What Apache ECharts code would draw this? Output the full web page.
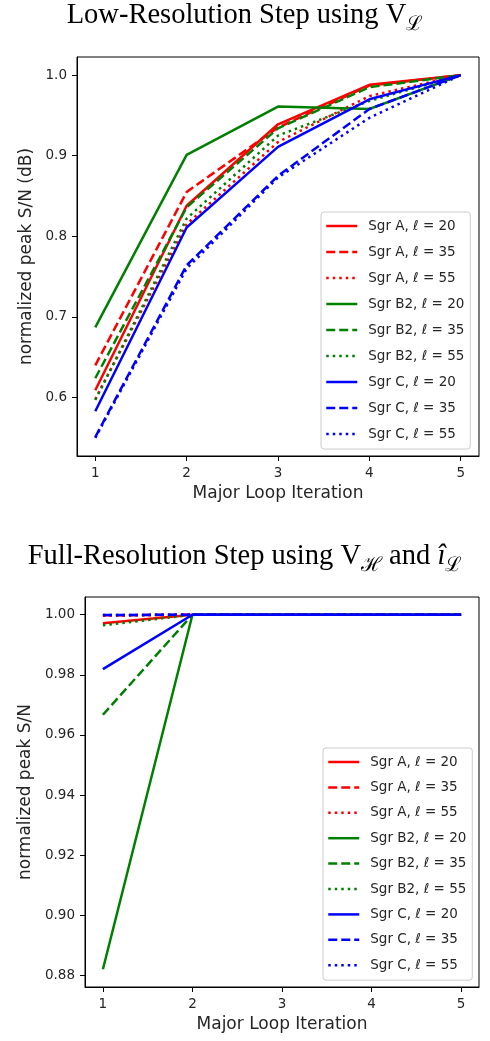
<!DOCTYPE html>
<html lang="en">
  <head>
    <meta charset="UTF-8" />
    <title>Major loop S/N</title>
    <script src="https://cdn.jsdelivr.net/npm/echarts@6/dist/echarts.min.js"></script>
    <style>
      html, body { margin: 0; padding: 0; background: #fff; }
    </style>
  </head>
  <body>
    <div id="main" style="width: 490px; height: 1041px"></div>
    <script type="text/javascript">
      // data
      let iterations = [1, 2, 3, 4, 5];
      let sources = ["Sgr A", "Sgr B2", "Sgr C"];
      let ells = [20, 35, 55];

      // low-resolution step (top panel)
      let lowSgrA20 = [0.609, 0.838, 0.939, 0.988, 1.0];
      let lowSgrA35 = [0.64, 0.855, 0.935, 0.987, 1.0];
      let lowSgrA55 = [0.598, 0.815, 0.917, 0.974, 1.0];
      let lowSgrB2_20 = [0.687, 0.901, 0.961, 0.958, 1.0];
      let lowSgrB2_35 = [0.624, 0.836, 0.934, 0.985, 1.0];
      let lowSgrB2_55 = [0.597, 0.822, 0.925, 0.968, 1.0];
      let lowSgrC20 = [0.583, 0.811, 0.911, 0.97, 1.0];
      let lowSgrC35 = [0.551, 0.764, 0.875, 0.958, 1.0];
      let lowSgrC55 = [0.55, 0.76, 0.873, 0.947, 1.0];

      // full-resolution step (bottom panel)
      let fullSgrA20 = [0.9972, 1.0, 1.0, 1.0, 1.0];
      let fullSgrA35 = [0.9998, 1.0, 1.0, 1.0, 1.0];
      let fullSgrA55 = [0.9997, 1.0, 1.0, 1.0, 1.0];
      let fullSgrB2_20 = [0.882, 1.0, 1.0, 1.0, 1.0];
      let fullSgrB2_35 = [0.9667, 1.0, 1.0, 1.0, 1.0];
      let fullSgrB2_55 = [0.9965, 1.0, 1.0, 1.0, 1.0];
      let fullSgrC20 = [0.9819, 1.0, 1.0, 1.0, 1.0];
      let fullSgrC35 = [0.9999, 1.0, 1.0, 1.0, 1.0];
      let fullSgrC55 = [0.9999, 1.0, 1.0, 1.0, 1.0];

      let lowTicks = [0.6, 0.7, 0.8, 0.9, 1.0];
      let fullTicks = [0.88, 0.9, 0.92, 0.94, 0.96, 0.98, 1.0];

      let lowData = [lowSgrA20, lowSgrA35, lowSgrA55, lowSgrB2_20, lowSgrB2_35, lowSgrB2_55, lowSgrC20, lowSgrC35, lowSgrC55];
      let fullData = [fullSgrA20, fullSgrA35, fullSgrA55, fullSgrB2_20, fullSgrB2_35, fullSgrB2_55, fullSgrC20, fullSgrC35, fullSgrC55];

      let colors = ["#ff0000", "#008000", "#0000ff"];
      let dashes = ["solid", [9, 4], [2.5, 4]];
      let textColor = "#262626";
      let sansFont = "DejaVu Sans";
      let serifFont = "Liberation Serif";

      let names = [];
      sources.forEach((s) => {
        ells.forEach((l) => {
          names.push(s + ", ℓ = " + l);
        });
      });

      function makeSeries(dataList, idx) {
        return dataList.map((vals, i) => ({
          name: names[i],
          type: "line",
          xAxisIndex: idx,
          yAxisIndex: idx,
          symbol: "none",
          animation: false,
          data: vals.map((v, j) => [iterations[j], v]),
          lineStyle: {
            color: colors[Math.floor(i / 3)],
            width: 2.5,
            type: dashes[i % 3],
            cap: "butt",
          },
          itemStyle: { color: colors[Math.floor(i / 3)] },
        }));
      }

      function xAxis(idx) {
        return {
          type: "value",
          gridIndex: idx,
          min: 0.8,
          max: 5.2,
          name: "Major Loop Iteration",
          nameLocation: "middle",
          nameGap: 29,
          nameTextStyle: { fontFamily: sansFont, fontSize: 17, color: textColor },
          axisLine: { show: true, onZero: false, lineStyle: { color: "#000", width: 1 } },
          axisTick: { show: true, length: 5, customValues: iterations, lineStyle: { color: "#000" } },
          axisLabel: {
            customValues: iterations,
            margin: 10,
            fontFamily: sansFont,
            fontSize: 13.5,
            color: textColor,
            formatter: (v) => String(v),
          },
          splitLine: { show: false },
        };
      }

      function yAxis(idx, min, max, ticks, digits, name, gap) {
        return {
          type: "value",
          gridIndex: idx,
          min: min,
          max: max,
          name: name,
          nameLocation: "middle",
          nameGap: gap,
          nameTextStyle: { fontFamily: sansFont, fontSize: 17, color: textColor },
          axisLine: { show: true, lineStyle: { color: "#000", width: 1 } },
          axisTick: { show: true, length: 5, customValues: ticks, lineStyle: { color: "#000" } },
          axisLabel: {
            customValues: ticks,
            margin: 10,
            fontFamily: sansFont,
            fontSize: 13.5,
            color: textColor,
            formatter: (v) => v.toFixed(digits),
          },
          splitLine: { show: false },
        };
      }

      function legend(left, top, gap) {
        return {
          show: true,
          orient: "vertical",
          left: left,
          top: top,
          data: names,
          selectedMode: false,
          itemWidth: 31,
          itemHeight: 14,
          itemGap: gap,
          padding: [7, 6, 8, 4],
          backgroundColor: "rgba(255,255,255,0.8)",
          borderColor: "#cccccc",
          borderWidth: 1,
          borderRadius: 3,
          itemStyle: { opacity: 0, borderWidth: 0 },
          lineStyle: { width: 2.5 },
          formatter: (n) => n.replace("ℓ", "{it|ℓ}"),
          textStyle: {
            fontFamily: sansFont,
            fontSize: 13.5,
            color: textColor,
            padding: [0, 0, 0, 6],
            rich: {
              it: { fontFamily: sansFont, fontSize: 13.5, fontStyle: "italic", color: textColor },
            },
          },
        };
      }

      let titleRich = {
        m: { fontFamily: serifFont, fontSize: 28.5, fontWeight: "normal", lineHeight: 28, color: "#000", verticalAlign: "top" },
        sub: { fontFamily: serifFont, fontSize: 20, fontWeight: "normal", lineHeight: 20, color: "#000", verticalAlign: "top", padding: [14, 0, 0, 0] },
        it: { fontFamily: serifFont, fontSize: 28.5, fontWeight: "normal", lineHeight: 28, color: "#000", fontStyle: "italic", verticalAlign: "top" },
      };

      let options = {
        backgroundColor: "#fff",
        animation: false,
        title: [
          {
            text: "{m|Low-Resolution Step using V}{sub|ℒ}",
            left: "center",
            top: 1,
            padding: [0, 0, 0, 6],
            textStyle: { fontWeight: "normal", rich: titleRich },
          },
          {
            text: "{m|Full-Resolution Step using V}{sub|ℋ}{m| and }{it|î}{sub|ℒ}",
            left: "center",
            top: 542,
            padding: [0, 0, 0, 6],
            textStyle: { fontWeight: "normal", rich: titleRich },
          },
        ],
        grid: [
          { left: 77, top: 57, width: 402, height: 399, show: true, borderColor: "#000", borderWidth: 1 },
          { left: 85, top: 597, width: 394, height: 390, show: true, borderColor: "#000", borderWidth: 1 },
        ],
        xAxis: [xAxis(0), xAxis(1)],
        yAxis: [
          yAxis(0, 0.5275, 1.0225, lowTicks, 1, "normalized peak S/N (dB)", 42),
          yAxis(1, 0.8761, 1.0059, fullTicks, 2, "normalized peak S/N", 49),
        ],
        legend: [legend(321, 212, 12), legend(323, 748, 11.4)],
        series: makeSeries(lowData, 0).concat(makeSeries(fullData, 1)),
      };

      let myChart = echarts.init(document.getElementById("main"));
      myChart.setOption(options);
    </script>
  </body>
</html>
